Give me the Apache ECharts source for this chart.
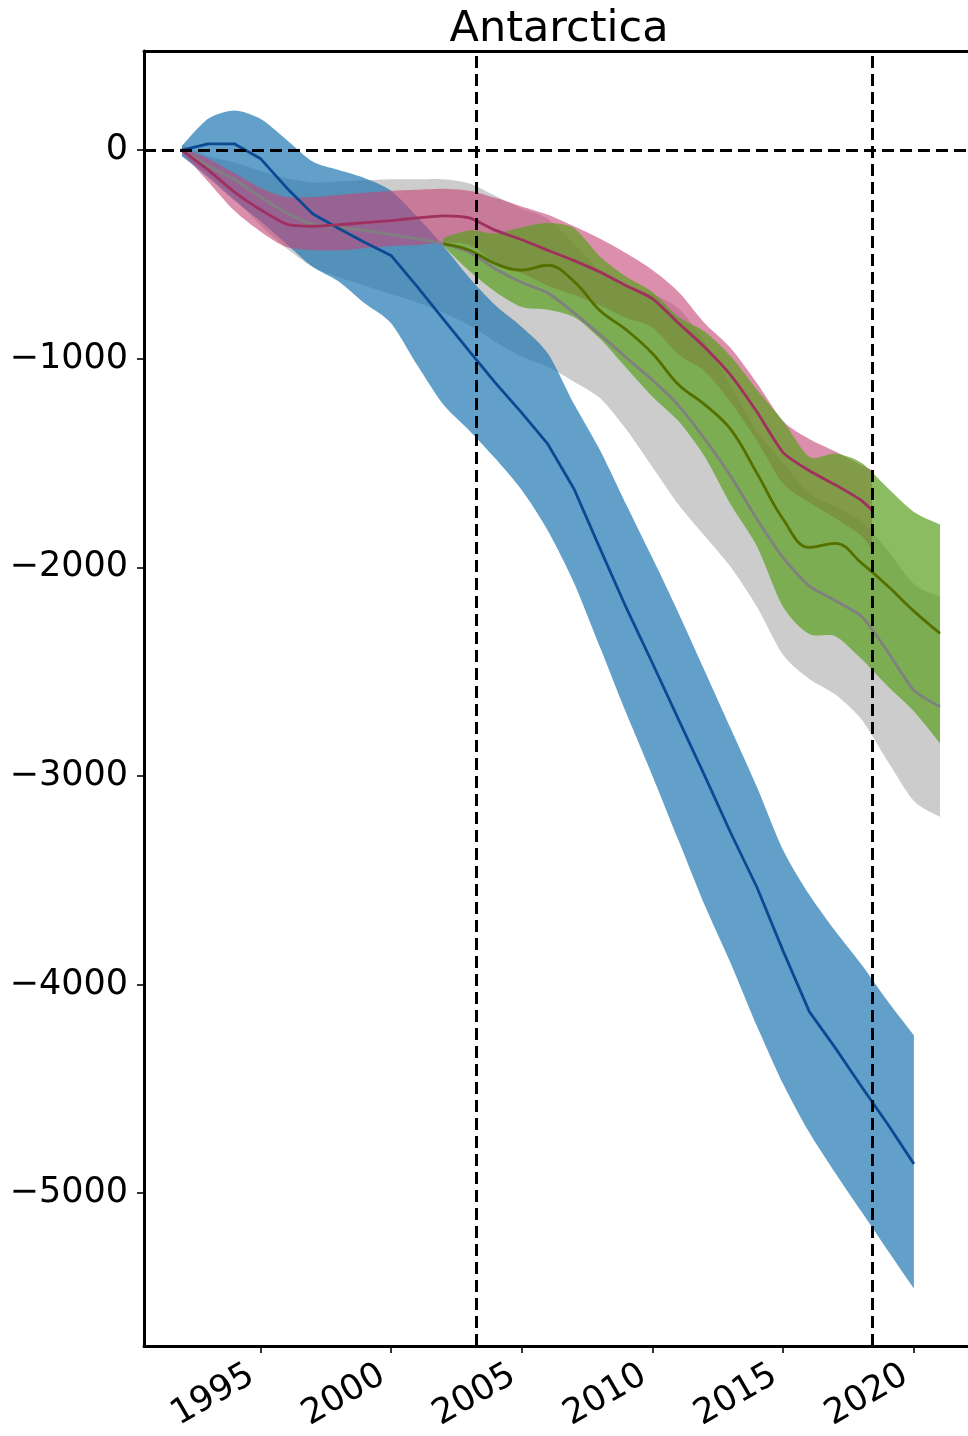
<!DOCTYPE html>
<html>
<head>
<meta charset="utf-8">
<script src="https://cdn.jsdelivr.net/npm/echarts@6/dist/echarts.min.js"></script>
<style>
html,body{margin:0;padding:0;background:#fff;}
#chart{width:968px;height:1436px;}
</style>
</head>
<body>
<div id="chart"></div>
<script>
// ---- data ----
const titleText = 'Antarctica';
const xTicks = [1995, 2000, 2005, 2010, 2015, 2020];
const yTicks = [0, -1000, -2000, -3000, -4000, -5000];
const refYears = [2003.25, 2018.4];

const blueYears = [1992,1993,1994,1995,1996,1997,1998,1999,2000,2001,2002,2003,2004,2005,2006,2007,2008,2009,2010,2011,2012,2013,2014,2015,2016,2017,2018,2019,2020];
const blueMid = [0,30,30,-40,-180,-305,-376,-443,-505,-655,-810,-965,-1117,-1260,-1410,-1625,-1912,-2195,-2460,-2730,-3000,-3275,-3535,-3840,-4130,-4305,-4490,-4670,-4860];
const blueUp  = [20,150,190,150,50,-55,-96,-135,-195,-320,-460,-613,-745,-848,-975,-1217,-1440,-1700,-1956,-2220,-2497,-2775,-3054,-3356,-3570,-3745,-3905,-4080,-4243];
const blueLo  = [-30,-130,-240,-340,-450,-559,-630,-736,-830,-1030,-1220,-1345,-1480,-1630,-1825,-2075,-2385,-2700,-3000,-3310,-3620,-3900,-4200,-4477,-4710,-4905,-5090,-5275,-5457];

const pinkYears = [1992,1993,1994,1995,1996,1997,1998,1999,2000,2001,2002,2003,2004,2005,2006,2007,2008,2009,2010,2011,2012,2013,2014,2015,2016,2017,2018,2018.4];
const pinkMid = [0,-95,-200,-285,-355,-365,-358,-348,-338,-325,-315,-325,-385,-430,-480,-530,-585,-650,-712,-830,-945,-1080,-1256,-1450,-1537,-1605,-1680,-1726];
const pinkUp  = [10,-40,-110,-180,-225,-225,-215,-205,-195,-190,-185,-195,-230,-270,-310,-365,-425,-495,-575,-680,-830,-950,-1118,-1300,-1385,-1445,-1510,-1534];
const pinkLo  = [-10,-150,-290,-390,-465,-480,-480,-470,-460,-455,-445,-455,-540,-590,-650,-695,-745,-805,-850,-980,-1060,-1210,-1394,-1600,-1690,-1765,-1850,-1918];

const grayYears = [1992,1993,1994,1995,1996,1997,1998,1999,2000,2001,2002,2003,2004,2005,2006,2007,2008,2009,2010,2011,2012,2013,2014,2015,2016,2017,2018,2019,2020,2021];
const grayMid = [0,-75,-140,-225,-300,-355,-370,-385,-405,-425,-450,-490,-570,-635,-685,-780,-885,-995,-1102,-1225,-1385,-1565,-1770,-1955,-2090,-2160,-2235,-2405,-2590,-2669];
const grayUp  = [25,-30,-60,-100,-135,-155,-150,-145,-140,-140,-140,-160,-220,-280,-330,-450,-580,-650,-690,-760,-920,-1130,-1350,-1500,-1645,-1710,-1780,-1920,-2080,-2143];
const grayLo  = [-25,-120,-230,-360,-470,-560,-610,-650,-690,-730,-780,-840,-920,-990,-1040,-1110,-1190,-1340,-1520,-1700,-1850,-2000,-2190,-2420,-2535,-2610,-2730,-2930,-3120,-3196];

const greenYears = [2002,2003,2004,2005,2006,2007,2008,2009,2010,2011,2012,2013,2014,2015,2016,2017,2018,2019,2020,2021];
const greenMid = [-450,-480,-545,-575,-552,-630,-770,-862,-975,-1125,-1220,-1340,-1550,-1770,-1905,-1885,-1980,-2090,-2210,-2317];
const greenUp  = [-420,-385,-400,-370,-350,-375,-511,-607,-680,-800,-870,-990,-1150,-1300,-1470,-1455,-1500,-1620,-1735,-1795];
const greenLo  = [-460,-580,-680,-752,-765,-800,-905,-1045,-1182,-1300,-1470,-1700,-1900,-2190,-2320,-2330,-2440,-2570,-2690,-2844];

// ---- styling ----
const FONT = 'DejaVu Sans';
const fills = {
  gray: 'rgba(153,153,153,0.5)',
  blue: 'rgba(31,119,180,0.7)',
  pink: 'rgba(197,68,118,0.6)',
  green: 'rgba(90,160,30,0.7)'
};
const lines = { gray: '#808080', blue: '#0b4a92', pink: '#a0305f', green: '#567000' };
const X_MIN = 1990.55, X_MAX = 2022.07, Y_MIN = -5733, Y_MAX = 475;

// Catmull-Rom spline through screen points (from api.coord), as SVG path commands
function splineCmds(pts, startCmd) {
  let d = startCmd + pts[0][0] + ' ' + pts[0][1];
  const t = 0.8;
  for (let i = 0; i < pts.length - 1; i++) {
    const p0 = pts[i - 1] || pts[i], p1 = pts[i], p2 = pts[i + 1], p3 = pts[i + 2] || pts[i + 1];
    const c1x = p1[0] + (p2[0] - p0[0]) / 6 * t, c1y = p1[1] + (p2[1] - p0[1]) / 6 * t;
    const c2x = p2[0] - (p3[0] - p1[0]) / 6 * t, c2y = p2[1] - (p3[1] - p1[1]) / 6 * t;
    d += ' C' + c1x + ' ' + c1y + ' ' + c2x + ' ' + c2y + ' ' + p2[0] + ' ' + p2[1];
  }
  return d;
}

function bandSeries(name, years, lo, hi, color) {
  return {
    type: 'custom',
    name: name + ' band',
    silent: true,
    clip: true,
    data: years.map((y, i) => [y, lo[i], hi[i]]),
    encode: { x: 0, y: [1, 2] },
    renderItem: function (params, api) {
      if (params.dataIndex !== 0) return null;
      const up = years.map((y, i) => api.coord([y, hi[i]]));
      const dn = years.map((y, i) => api.coord([y, lo[i]])).reverse();
      const d = splineCmds(up, 'M') + ' ' + splineCmds(dn, 'L') + ' Z';
      return { type: 'path', shape: { pathData: d }, style: { fill: color, stroke: null } };
    }
  };
}
function lineSeries(name, years, mid, color, smooth) {
  return {
    type: 'line', name: name, silent: true, symbol: 'none', smooth: smooth,
    data: years.map((y, i) => [y, mid[i]]),
    lineStyle: { color: color, width: 2.8 }
  };
}

const chart = echarts.init(document.getElementById('chart'), null, { renderer: 'canvas' });
const fmtY = v => (v < 0 ? '\u2212' + Math.abs(v) : String(v));

chart.setOption({
  animation: false,
  backgroundColor: '#fff',
  title: {
    text: titleText, left: 554, top: 3, textAlign: 'center',
    textStyle: { fontFamily: FONT, fontSize: 43, fontWeight: 'normal', color: '#000' }
  },
  grid: { left: 144, top: 51, right: 0, height: 1295, show: false },
  xAxis: [{
    type: 'value', min: X_MIN, max: X_MAX,
    axisLine: { show: true, onZero: false, lineStyle: { color: '#000', width: 3 } },
    axisTick: { show: true, customValues: xTicks, length: 7, lineStyle: { color: '#000', width: 1.6 } },
    axisLabel: { customValues: xTicks, rotate: 30, fontSize: 35, fontFamily: FONT, color: '#000', margin: 22, padding: [0, 10, 0, 0], formatter: v => String(v) },
    splitLine: { show: false }
  }, {
    type: 'value', min: X_MIN, max: X_MAX, position: 'top',
    axisLine: { show: true, onZero: false, lineStyle: { color: '#000', width: 3 } },
    axisTick: { show: false }, axisLabel: { show: false }, splitLine: { show: false }
  }],
  yAxis: {
    type: 'value', min: Y_MIN, max: Y_MAX,
    axisLine: { show: true, onZero: false, lineStyle: { color: '#000', width: 3 } },
    axisTick: { show: true, customValues: yTicks, length: 7, lineStyle: { color: '#000', width: 1.6 } },
    axisLabel: { customValues: yTicks, fontSize: 35, fontFamily: FONT, color: '#000', margin: 16, formatter: fmtY },
    splitLine: { show: false }
  },
  series: [
    bandSeries('gray', grayYears, grayLo, grayUp, fills.gray),
    bandSeries('blue', blueYears, blueLo, blueUp, fills.blue),
    bandSeries('pink', pinkYears, pinkLo, pinkUp, fills.pink),
    bandSeries('green', greenYears, greenLo, greenUp, fills.green),
    lineSeries('gray', grayYears, grayMid, lines.gray, 0.2),
    lineSeries('blue', blueYears, blueMid, lines.blue, 0),
    lineSeries('pink', pinkYears, pinkMid, lines.pink, 0.2),
    lineSeries('green', greenYears, greenMid, lines.green, 0.4),
    {
      type: 'line', name: 'ref', data: [], silent: true,
      markLine: {
        silent: true, symbol: 'none', animation: false,
        label: { show: false },
        lineStyle: { color: '#000', type: [12, 6], width: 3 },
        data: [{ yAxis: 0 }].concat(refYears.map(v => ({ xAxis: v })))
      }
    }
  ]
});
</script>
</body>
</html>
